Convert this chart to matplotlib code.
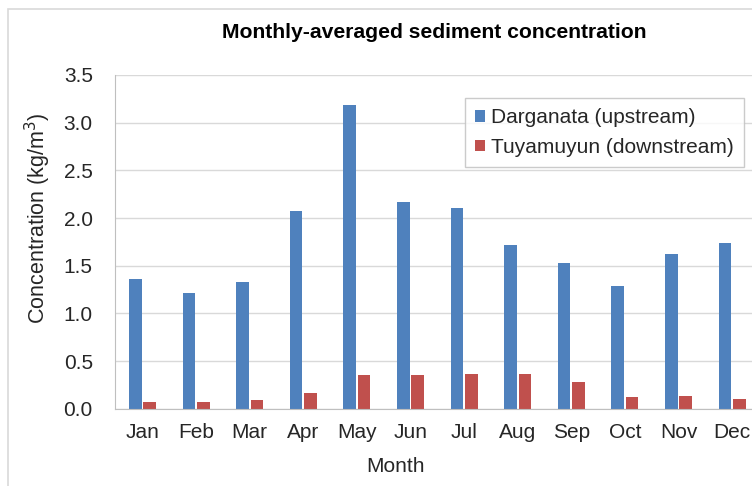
import matplotlib
matplotlib.use("Agg")
import matplotlib.pyplot as plt
from matplotlib.patches import Rectangle

months = ["Jan", "Feb", "Mar", "Apr", "May", "Jun",
          "Jul", "Aug", "Sep", "Oct", "Nov", "Dec"]
darganata = [1.36, 1.21, 1.33, 2.07, 3.19, 2.17, 2.11, 1.72, 1.53, 1.29, 1.62, 1.74]
tuyamuyun = [0.07, 0.07, 0.095, 0.16, 0.35, 0.35, 0.365, 0.365, 0.285, 0.12, 0.135, 0.105]
yticks = [0.0, 0.5, 1.0, 1.5, 2.0, 2.5, 3.0, 3.5]

W, H = 752, 486
plt.rcParams['font.family'] = ['Liberation Sans', 'DejaVu Sans']

fig = plt.figure(figsize=(W / 100, H / 100), dpi=100)
# outer chart frame (cropped on the right and bottom)
fig.patches.append(Rectangle((8 / W, -0.1), 2.0, 1 - 9 / H + 0.1,
                             transform=fig.transFigure, fill=False,
                             edgecolor="#d9d9d9", lw=1.2))

ax = fig.add_axes([115 / W, (H - 408.7) / H, (W - 115) / W, 333.7 / H])
x = range(len(months))
ax.bar([i - 0.135 for i in x], darganata, width=0.235, color="#4F81BD",
       label="Darganata (upstream)", zorder=3)
ax.bar([i + 0.135 for i in x], tuyamuyun, width=0.235, color="#C0504D",
       label="Tuyamuyun (downstream)", zorder=3)

ax.set_xlim(-0.513, 11.37)
ax.set_ylim(0, 3.5)
ax.set_yticks(yticks)
ax.set_yticklabels([f"{v:.1f}" for v in yticks])
ax.set_xticks(list(x))
ax.set_xticklabels(months)
ax.tick_params(length=0, labelsize=15, colors="#262626")
ax.tick_params(axis="y", pad=16)
ax.tick_params(axis="x", pad=10)
ax.grid(axis="y", color="#d9d9d9", lw=1, zorder=0)
for s in ["top", "right"]:
    ax.spines[s].set_visible(False)
for s in ["left", "bottom"]:
    ax.spines[s].set_color("#bfbfbf")
    ax.spines[s].set_zorder(4)

ax.set_ylabel("Concentration (kg/m$^3$)", fontsize=15.5, color="#262626")
ax.yaxis.set_label_coords((53 - 115) / (W - 115), (408.7 - 218) / 333.7)
ax.set_xlabel("Month", fontsize=15, color="#262626")
ax.xaxis.set_label_coords((395 - 115) / (W - 115), -(457 - 408.7) / 333.7)

fig.text(434 / W, 1 - 33 / H, "Monthly-averaged sediment concentration",
         ha="center", va="center", fontsize=15.2, fontweight="bold")

leg = ax.legend(loc="upper left", bbox_to_anchor=((465 - 115) / (W - 115), (408.7 - 98) / 333.7),
                fontsize=15, frameon=True, fancybox=False, handlelength=0.45,
                handleheight=0.45, handletextpad=0.3, borderpad=0.5, labelspacing=0.5,
                borderaxespad=0)
leg.get_frame().set_edgecolor("#bfbfbf")
leg.get_frame().set_linewidth(1)
for t in leg.get_texts():
    t.set_color("#262626")

fig.savefig("out.png", dpi=100)
